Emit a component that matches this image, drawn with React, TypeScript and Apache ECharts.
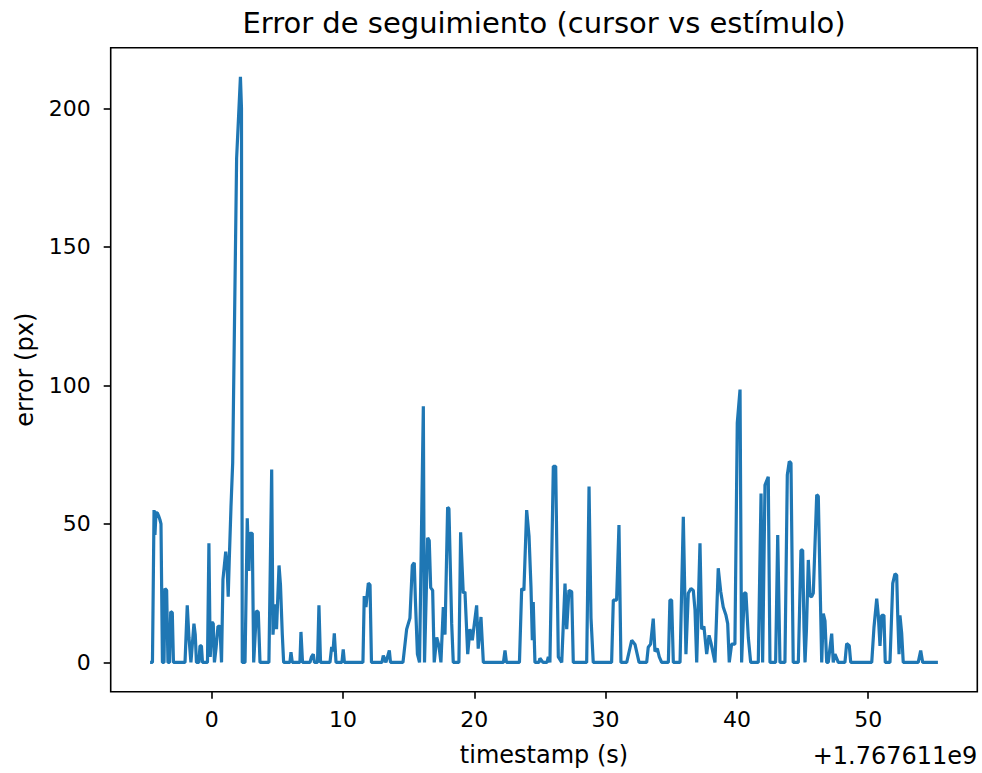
import React, { useEffect, useRef } from "react";
import * as echarts from "echarts";

// timestamp offset (s) relative to 1.767611e9
const times: number[] = [
  -4.69, -4.51, -4.39, -4.32, -4.24, -4.14, -4.05, -3.94, -3.86, -3.75,
  -3.63, -3.56, -3.43, -3.33, -3.21, -3.12, -3.0, -2.91, -2.03, -1.86,
  -1.73, -1.58, -1.35, -1.25, -1.16, -0.97, -0.89, -0.78, -0.7, -0.32,
  -0.21, -0.11, 0.02, 0.12, 0.21, 0.33, 0.48, 0.63, 0.75, 0.86,
  1.07, 1.17, 1.26, 1.34, 1.47, 1.6, 1.9, 2.19, 2.27, 2.33,
  2.54, 2.71, 2.84, 2.92, 3.09, 3.2, 3.41, 3.55, 3.68, 4.36,
  4.57, 4.67, 4.82, 4.94, 5.13, 5.24, 5.38, 5.48, 5.96, 6.04,
  6.14, 6.72, 6.8, 6.92, 7.49, 7.6, 7.74, 7.83, 8.06, 8.17,
  8.29, 9.01, 9.14, 9.24, 9.34, 9.47, 9.92, 10.02, 10.11, 11.52,
  11.62, 11.75, 11.93, 12.06, 12.17, 12.97, 13.07, 13.27, 13.53, 13.62,
  14.57, 14.85, 15.1, 15.28, 15.43, 15.52, 15.67, 15.83, 16.12, 16.21,
  16.45, 16.57, 16.68, 16.83, 16.95, 17.14, 17.31, 17.46, 17.64, 17.77,
  17.97, 18.07, 18.28, 18.4, 18.83, 18.96, 19.16, 19.29, 19.5, 19.67,
  19.85, 20.18, 20.3, 20.51, 20.69, 22.22, 22.34, 22.45, 23.44, 23.61,
  23.78, 23.99, 24.17, 24.32, 24.42, 24.49, 24.62, 24.93, 25.0, 25.23,
  25.54, 25.64, 25.76, 26.02, 26.2, 26.4, 26.66, 26.91, 27.04, 27.21,
  27.42, 27.54, 28.56, 28.74, 28.89, 29.06, 30.46, 30.59, 30.84, 31.02,
  31.17, 31.61, 31.99, 32.24, 32.55, 33.13, 33.25, 33.43, 33.63, 33.76,
  33.94, 34.09, 34.27, 34.78, 34.9, 35.03, 35.16, 35.67, 35.92, 36.12,
  36.3, 36.5, 36.68, 36.81, 36.94, 37.19, 37.32, 37.49, 37.7, 37.88,
  38.03, 38.2, 38.33, 38.58, 38.77, 38.96, 39.17, 39.3, 39.42, 39.6,
  39.85, 40.03, 40.24, 40.36, 40.56, 40.69, 40.87, 41.05, 41.63, 41.84,
  41.96, 42.14, 42.39, 42.52, 42.95, 43.11, 43.28, 43.66, 43.84, 43.99,
  44.12, 44.29, 44.68, 44.88, 45.01, 45.11, 45.19, 45.3, 45.44, 45.57,
  45.69, 45.82, 46.08, 46.2, 46.33, 46.46, 46.58, 46.71, 46.84, 46.96,
  47.22, 47.34, 47.47, 47.6, 47.72, 48.23, 48.36, 48.56, 48.67, 50.27,
  50.44, 50.65, 50.77, 50.9, 51.03, 51.2, 51.3, 51.66, 51.87, 52.04,
  52.17, 52.25, 52.35, 52.42, 52.55, 52.67, 53.81, 54.0, 54.15, 55.31,
];

// tracking error (px)
const errors: number[] = [
  0, 0, 55, 46, 54, 54, 53, 51.5, 50, 0,
  0, 26.7, 26, 0, 0, 18.3, 18, 0, 0, 20.6,
  9, 0, 14, 10, 0, 0, 6, 6, 0, 0,
  43, 2, 14.6, 14, 0, 5, 13, 13, 0, 30,
  40, 35, 23.7, 37, 56, 72, 182, 211.4, 200, 0,
  0, 52, 33, 46.6, 46.6, 0, 18.6, 18.2, 0, 0,
  69.6, 10, 21, 12, 35, 28, 10, 0, 0, 3.7,
  0, 0, 11, 0, 0, 2, 3, 0, 0, 20.6,
  0, 0, 5.6, 4, 10.5, 0, 0, 4.7, 0, 0,
  24, 20, 28.6, 28, 0, 0, 2.5, 0, 4.3, 0,
  0, 12, 16, 35, 36, 22, 3, 0, 92.5, 0,
  45, 44, 27, 26, 0, 9, 6, 0, 20, 10,
  56, 55.5, 14, 0, 0, 47, 25, 25.5, 3, 12,
  8, 20.6, 5, 16.4, 0, 0, 4.3, 0, 0, 26.7,
  26, 55, 45.6, 27, 8, 21.8, 0, 0, 1.5, 0,
  0, 2, 0, 70.8, 70.8, 2, 0, 28.5, 12, 26,
  25.5, 0, 0, 63.5, 16, 0, 0, 22.5, 22.5, 49.6,
  0, 0, 8, 6.5, 0, 0, 5.5, 6.6, 15.8, 4,
  5, 2, 0, 0, 22.5, 22.5, 0, 0, 52.6, 3,
  25, 26.7, 26, 19, 0, 43, 12, 13, 3, 9.8,
  7, 3, 0, 34, 25.5, 20, 17, 14, 0, 6.6,
  6.6, 86.5, 98.5, 0, 25, 25, 9, 0, 0, 61,
  0, 64, 67, 0, 0, 46, 0, 0, 67.7, 72.5,
  72, 0, 0, 40.5, 40.5, 12.6, 0, 12, 37, 24,
  23.7, 25, 60.5, 60, 30, 0, 17.6, 15, 0, 0,
  10.4, 0, 3, 1.5, 0, 0, 6.8, 6, 0, 0,
  12.6, 23, 17, 6, 17, 17, 0, 0, 28.5, 32,
  31.5, 17, 3, 17, 10.6, 0, 0, 4.3, 0, 0,
];

const xTicks: number[] = [0, 10, 20, 30, 40, 50];
const yTicks: number[] = [0, 50, 100, 150, 200];

const titleText = "Error de seguimiento (cursor vs estímulo)";
const xLabel = "timestamp (s)";
const yLabel = "error (px)";
const offsetText = "+1.767611e9";

const FONT = "DejaVu Sans";

export default function App() {
  const ref = useRef<HTMLDivElement>(null);

  useEffect(() => {
    if (!ref.current) return;
    const chart = echarts.init(ref.current, undefined, { renderer: "svg" });
    const data = times.map((t, i) => [t, errors[i]]);

    const gridLeft = 110.7;
    const gridRight = 4.7;
    const gridTop = 47.7;
    const gridBottom = 81.3;
    const plotCenterX = gridLeft + (982 - gridLeft - gridRight) / 2;
    const plotCenterY = gridTop + (773 - gridTop - gridBottom) / 2;

    chart.setOption({
      animation: false,
      backgroundColor: "#ffffff",
      grid: {
        left: gridLeft,
        right: gridRight,
        top: gridTop,
        bottom: gridBottom,
        show: true,
        borderColor: "#000",
        borderWidth: 1.6,
        backgroundColor: "transparent",
      },
      xAxis: {
        type: "value",
        min: -7.69,
        max: 58.31,
        axisLine: { show: false, onZero: false },
        splitLine: { show: false },
        axisTick: {
          show: true,
          length: 7,
          inside: false,
          customValues: xTicks,
          lineStyle: { color: "#000", width: 1.6 },
        },
        axisLabel: {
          customValues: xTicks,
          margin: 17,
          color: "#000",
          fontFamily: FONT,
          fontSize: 22,
        },
      },
      yAxis: {
        type: "value",
        min: -10.57,
        max: 221.9,
        axisLine: { show: false, onZero: false },
        splitLine: { show: false },
        axisTick: {
          show: true,
          length: 7,
          inside: false,
          customValues: yTicks,
          lineStyle: { color: "#000", width: 1.6 },
        },
        axisLabel: {
          customValues: yTicks,
          margin: 20,
          color: "#000",
          fontFamily: FONT,
          fontSize: 22,
        },
      },
      series: [
        {
          type: "line",
          data,
          showSymbol: false,
          symbol: "none",
          clip: true,
          lineStyle: { color: "#1f77b4", width: 3.2 },
        },
      ],
      graphic: [
        {
          type: "text",
          x: plotCenterX,
          y: 23,
          style: {
            text: titleText,
            fill: "#000",
            font: `29px '${FONT}'`,
            align: "center",
            verticalAlign: "middle",
          },
        },
        {
          type: "text",
          x: plotCenterX,
          y: 755,
          style: {
            text: xLabel,
            fill: "#000",
            font: `24px '${FONT}'`,
            align: "center",
            verticalAlign: "middle",
          },
        },
        {
          type: "text",
          x: 977.3,
          y: 756,
          style: {
            text: offsetText,
            fill: "#000",
            font: `24px '${FONT}'`,
            align: "right",
            verticalAlign: "middle",
          },
        },
        {
          type: "text",
          x: 25,
          y: plotCenterY,
          rotation: Math.PI / 2,
          style: {
            text: yLabel,
            fill: "#000",
            font: `24px '${FONT}'`,
            align: "center",
            verticalAlign: "middle",
          },
        },
      ],
    });

    return () => {
      chart.dispose();
    };
  }, []);

  return (
    <div
      ref={ref}
      style={{
        position: "absolute",
        left: 0,
        top: 0,
        width: 982,
        height: 773,
        background: "#fff",
      }}
    />
  );
}
